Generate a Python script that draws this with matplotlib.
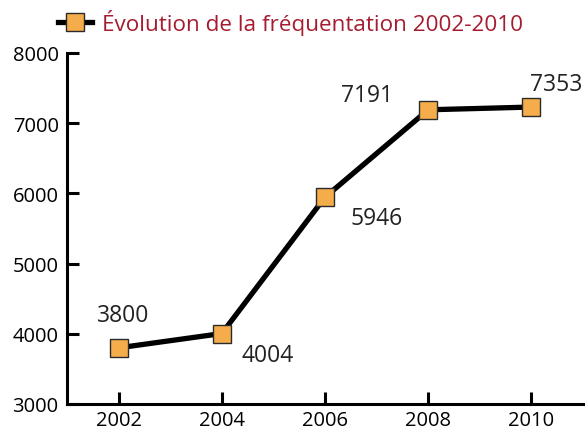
import matplotlib
matplotlib.use("Agg")
import matplotlib.pyplot as plt

plt.rcParams['font.family'] = ['Open Sans', 'DejaVu Sans']

# data
years = [2002, 2004, 2006, 2008, 2010]
visits = [3800, 4004, 5946, 7191, 7230]
point_labels = ["3800", "4004", "5946", "7191", "7353"]
title = "Évolution de la fréquentation 2002-2010"

# label offsets in pixels (dx, dy)
offsets = [(5, 33), (46, -21), (52, -21), (-61, 15), (25, 23)]

fig = plt.figure(figsize=(5.87, 4.31), dpi=100)
ax = fig.add_axes([67/587, 1 - 405/431, (583 - 67)/587, (405 - 54)/431])

ax.plot(years, visits, color='black', lw=3.8, marker='s', ms=12.5,
        mfc='#f5ad4b', mec='#2a2a2a', mew=1.0, label=title, zorder=3)

for x, y, t, (dx, dy) in zip(years, visits, point_labels, offsets):
    ax.annotate(t, (x, y), xytext=(dx, dy), textcoords='offset pixels',
                ha='center', va='center', fontsize=16.5, color='#222222')

ax.set_xlim(2001, 2011)
ax.set_ylim(3000, 8000)
ax.set_xticks(years)
ax.set_yticks(range(3000, 8001, 1000))

for s in ['top', 'right']:
    ax.spines[s].set_visible(False)
for s in ['left', 'bottom']:
    ax.spines[s].set_linewidth(2.2)

ax.tick_params(direction='in', length=8.5, width=2.2, labelsize=14.5, pad=6)
ax.tick_params(axis='x', pad=4)

leg = fig.legend(loc='center left', bbox_to_anchor=(58/587, 1 - 23/431),
                 frameon=False, handlelength=1.5, handletextpad=0.45,
                 fontsize=16.2, borderaxespad=0, borderpad=0)
for txt in leg.get_texts():
    txt.set_color('#a51c30')

fig.savefig('out.png', dpi=100)
